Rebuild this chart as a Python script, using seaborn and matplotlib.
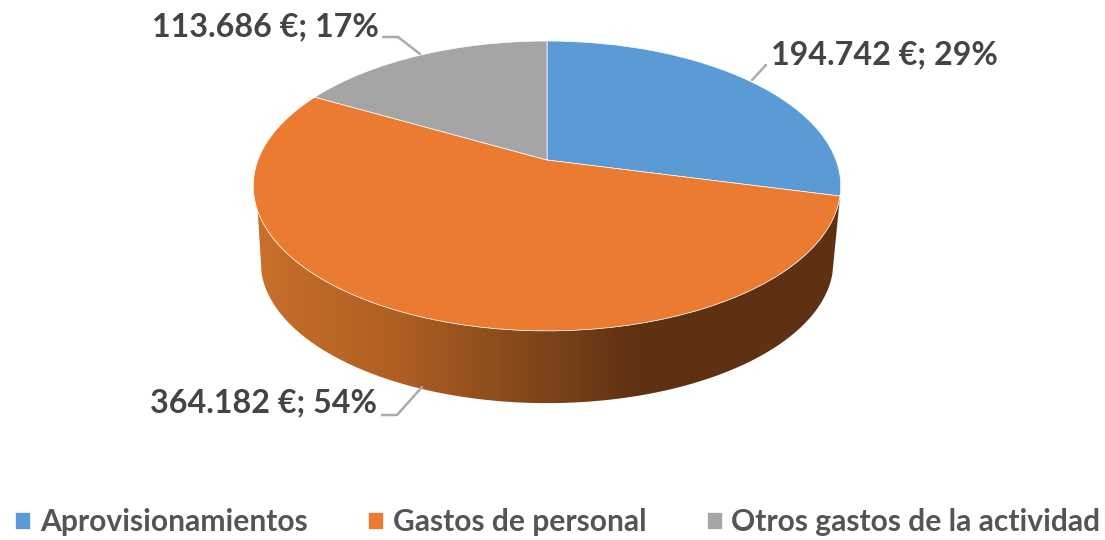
import numpy as np
import matplotlib
matplotlib.use('Agg')
import matplotlib.pyplot as plt
import matplotlib.transforms as mtransforms
from matplotlib.colors import LinearSegmentedColormap
from matplotlib.path import Path
from matplotlib.patches import PathPatch
import seaborn as sns

# Data
categories = ['Aprovisionamientos', 'Gastos de personal', 'Otros gastos de la actividad']
values = [194742, 364182, 113686]
colors = ['#5B9BD5', '#EA7B30', '#A5A5A5']

sns.set_theme(style='white')
plt.rcParams['font.family'] = ['Lato', 'DejaVu Sans']

# Tilted disc, output in pixels of the figure
CX, CY = 547, 160
SX, SY, TILT = 289, 140.3, 0.179
DROP, SHRINK = 76.5, 0.975


def project(x, y):
    w = 1 + TILT * y
    return CX + SX * x / w, CY - SY * y / w


class Tilted(mtransforms.Transform):
    input_dims = 2
    output_dims = 2

    def transform_non_affine(self, values):
        values = np.asarray(values)
        x, y = project(values[:, 0], values[:, 1])
        return np.column_stack([x, y])


def rim(deg_from, deg_to, lower=False):
    t = np.radians(np.linspace(deg_from, deg_to, 200))
    x, y = project(np.sin(t), np.cos(t))
    if lower:
        x = CX + (x - CX) * SHRINK
        y = CY + (y - CY) * SHRINK + DROP
    return np.column_stack([x, y])


fig = plt.figure(figsize=(11.05, 5.4), dpi=100)
ax = fig.add_axes([0, 0, 1, 1])

wedges, _ = ax.pie(values, colors=colors, startangle=90, counterclock=False,
                   wedgeprops={'edgecolor': 'white', 'linewidth': 0.5})
tilted = Tilted() + ax.transData
for w in wedges:
    w.set_transform(tilted)
    w.set_zorder(3)

# side wall with the gradient, only the part below the front rim is visible
side = LinearSegmentedColormap.from_list('side', [
    (0.0, '#C9702C'), (0.25, '#AE5E22'), (0.5, '#7C4419'),
    (0.66, '#5E3113'), (1.0, '#5E3113')])
grad = ax.imshow(np.linspace(0, 1, 512).reshape(1, -1), cmap=side, aspect='auto',
                 extent=[254, 840, 410, 180], zorder=1)
wall = np.vstack([rim(104, 250), rim(105, 255, lower=True)[::-1]])
clip = PathPatch(Path(np.vstack([wall, wall[:1]]), closed=True), transform=ax.transData,
                 facecolor='none', edgecolor='none')
ax.add_patch(clip)
grad.set_clip_path(clip)

total = sum(values)
label_pos = [(884.5, 55), (263.5, 403), (265.5, 27)]
leaders = [[(752, 80), (766, 65)],
           [(382, 415), (397, 415), (422, 387)],
           [(383, 37), (398, 37), (420, 54)]]
for v, pos, line in zip(values, label_pos, leaders):
    txt = f"{v:,}".replace(',', '.') + f" €; {round(100 * v / total)}%"
    ax.text(pos[0], pos[1], txt, ha='center', va='center', fontsize=23.2,
            fontweight='bold', color='#444444', zorder=5)
    xs, ys = zip(*line)
    ax.plot(xs, ys, color='#ABABAB', lw=1.8, zorder=2)

ax.set_aspect('auto')
ax.set_xlim(0, 1105)
ax.set_ylim(540, 0)
ax.axis('off')

ax.legend(wedges, categories, ncols=3, loc='center', bbox_to_anchor=(558 / 1105, 1 - 522 / 540),
          frameon=False, labelcolor='#555555', handlelength=0.5, handleheight=0.5,
          handletextpad=0.33, columnspacing=2.0, prop={'weight': 'bold', 'size': 21.6})

plt.savefig('out.png', dpi=100)
